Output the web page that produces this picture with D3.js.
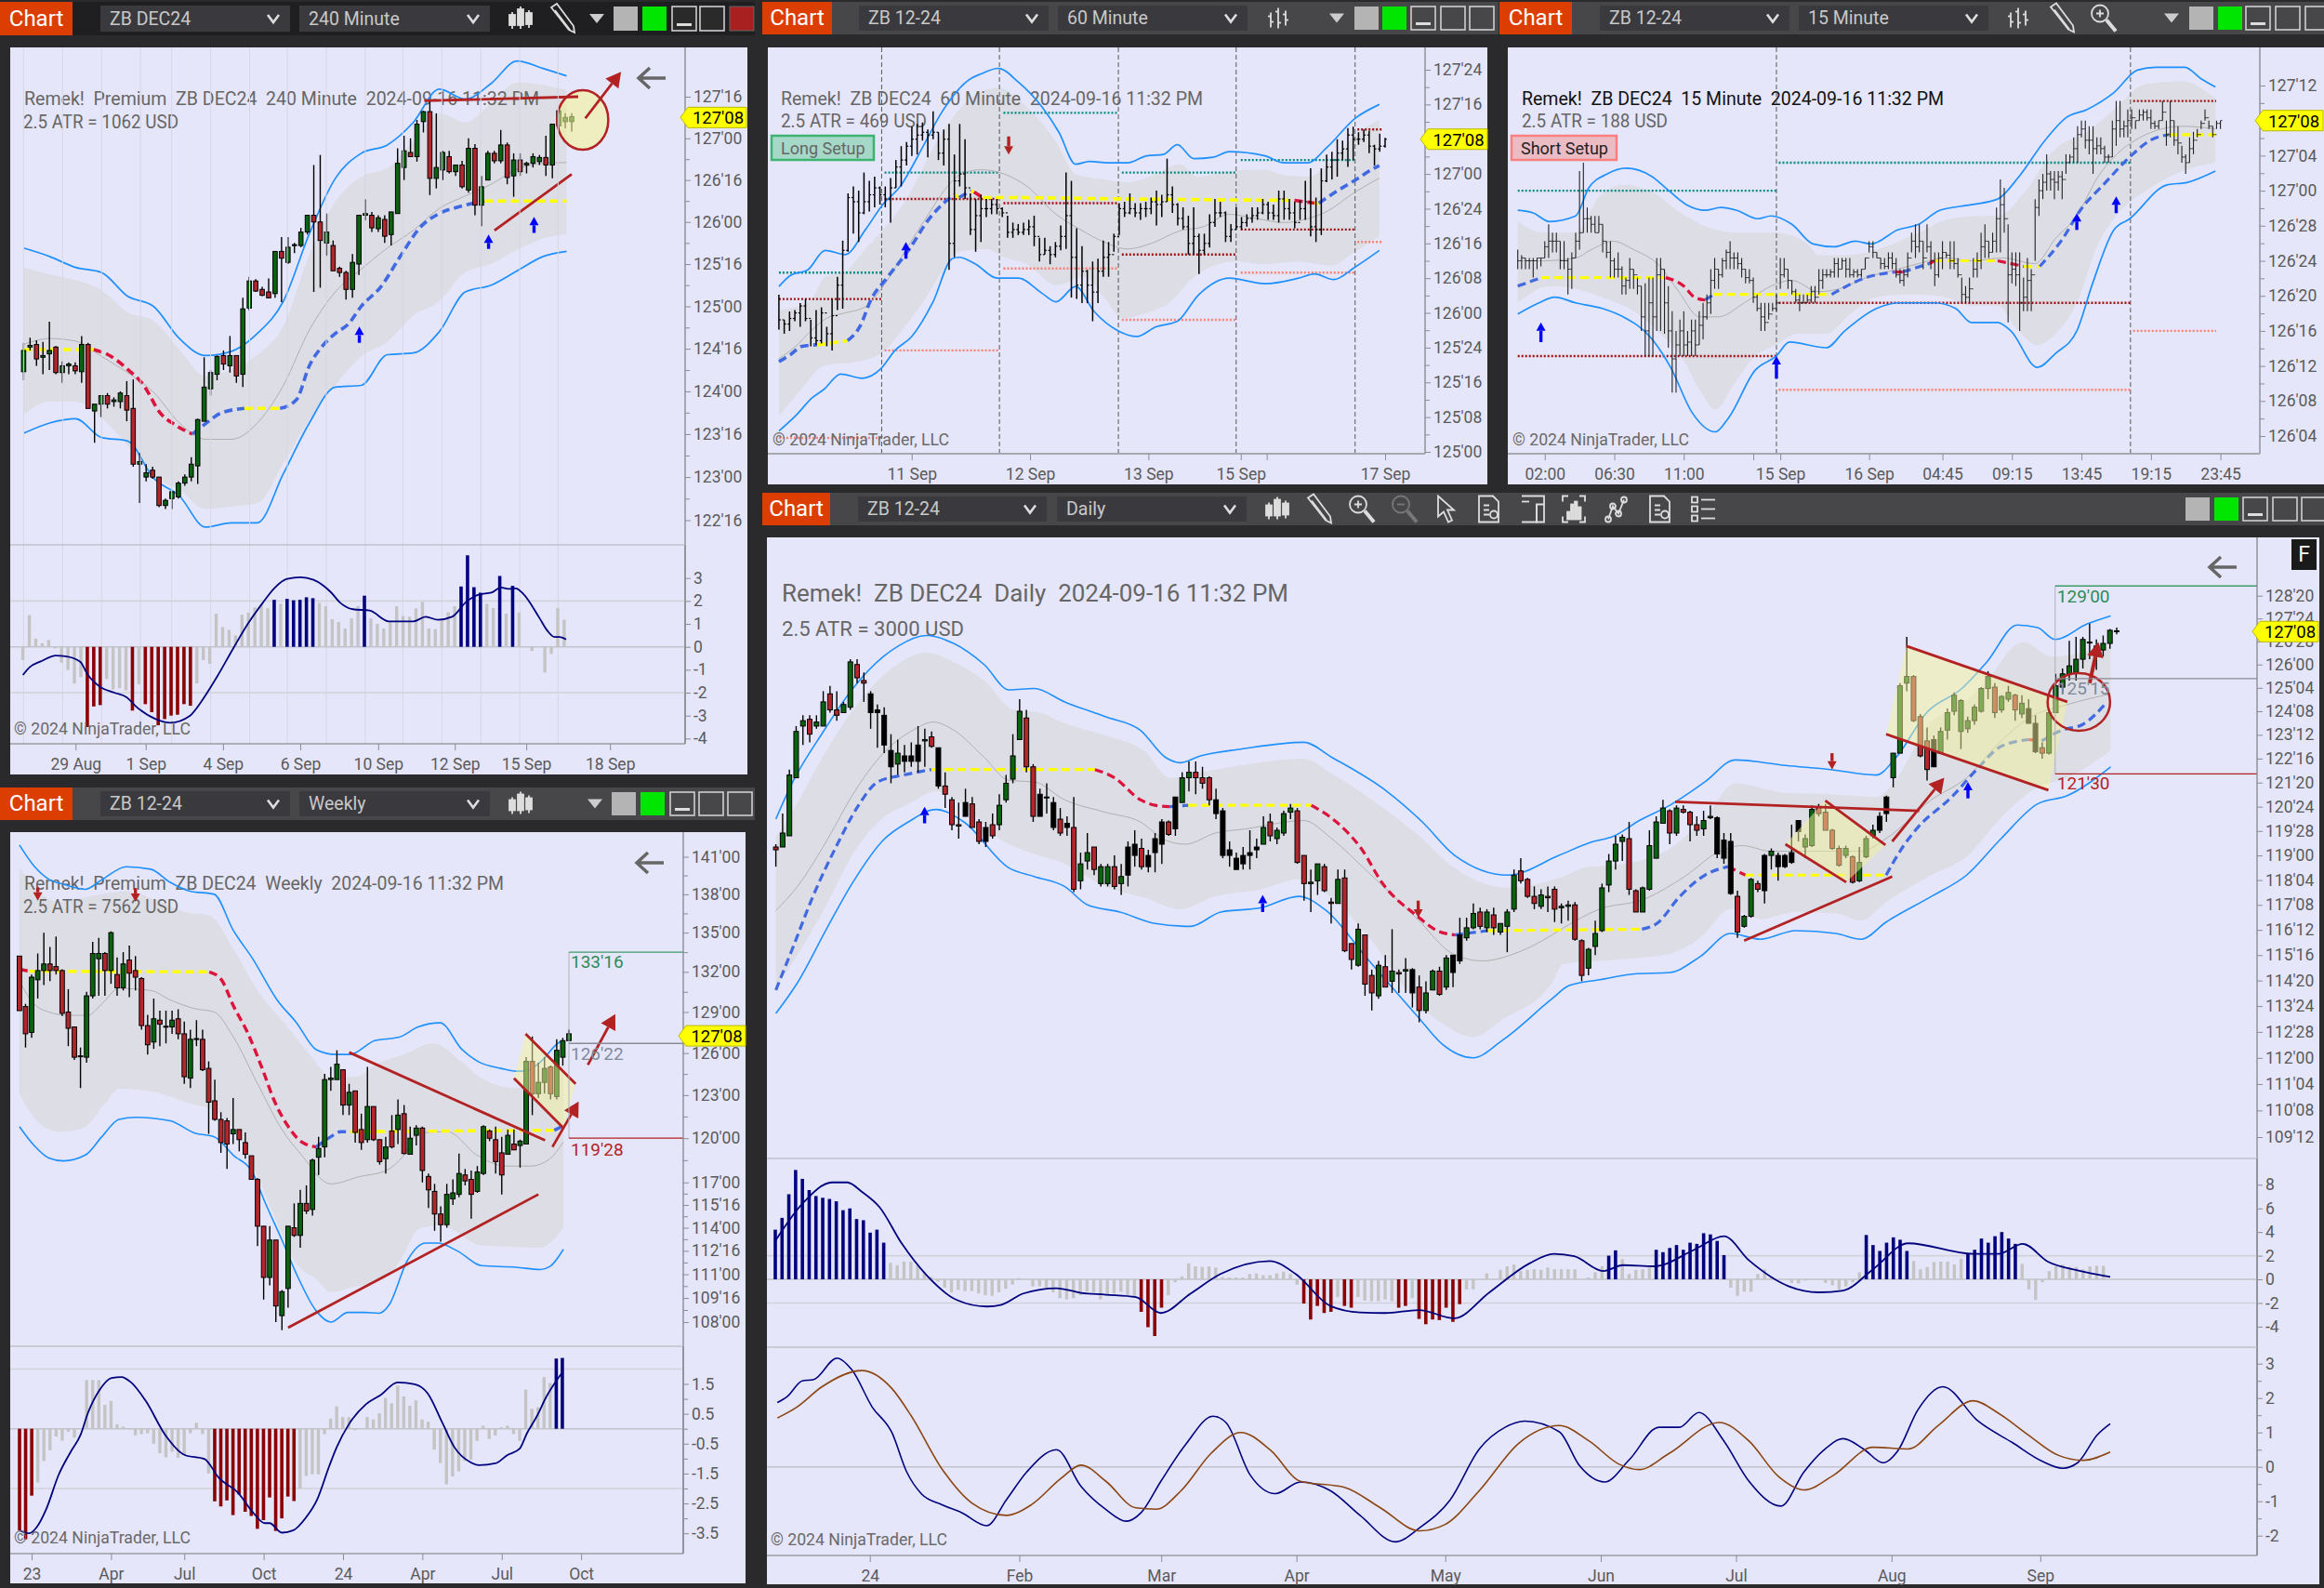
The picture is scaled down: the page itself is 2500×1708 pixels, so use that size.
<!DOCTYPE html>
<html><head><meta charset="utf-8"><script src="https://cdn.jsdelivr.net/npm/d3@7"></script>
<style>html,body{margin:0;background:#2a2a2c}svg{display:block}text{white-space:pre}</style></head><body><svg id="c" width="2500" height="1708"></svg>
<script>
// ---------- 240 minute ----------
const barsA=[124.23,124.57,124.13,124.48,124.52,124.63,124.48,124.54,124.55,124.6,124.3,124.38,124.4,124.58,124.2,124.42,124.44,124.82,124.25,124.48,124.52,124.53,124.2,124.22,124.22,124.35,124.1,124.3,124.3,124.34,124.2,124.32,124.3,124.34,124.2,124.24,124.23,124.65,124.1,124.55,124.55,124.57,123.8,123.8,123.77,123.85,123.4,123.85,123.85,123.95,123.7,123.95,123.95,123.98,123.8,123.85,123.88,123.93,123.82,123.9,123.88,124,123.8,123.98,123.95,124.12,123.65,123.78,123.8,124.14,123.12,123.15,123.15,123.28,122.7,123.18,123,123.15,122.95,123.05,123.08,123.12,122.98,123,123,123,122.65,122.67,122.67,122.75,122.63,122.73,122.75,122.83,122.63,122.83,122.77,122.95,122.75,122.93,122.93,123.03,122.9,123,123,123.23,122.95,123.15,123.13,123.68,122.92,123.67,123.65,124.4,123.65,124.05,124.03,124.25,123.95,124.22,124.2,124.42,124.13,124.41,124.42,124.48,124.25,124.32,124.3,124.65,124.22,124.42,124.42,124.42,124.1,124.18,124.2,125.1,124.05,124.97,124.98,125.35,124.95,125.3,125.3,125.32,125.17,125.18,125.2,125.23,125.12,125.13,125.17,125.33,125.1,125.1,125.15,125.65,125.1,125.65,125.65,125.82,125.05,125.57,125.52,125.82,125.5,125.7,125.72,125.75,125.63,125.73,125.72,125.93,125.7,125.88,125.88,126.08,125.85,126.08,126.08,126.68,125.17,126,126,126.8,125.22,125.78,125.75,126.1,125.6,125.88,125.72,125.78,125.43,125.42,125.45,125.47,125.35,125.4,125.4,125.42,125.08,125.2,125.2,125.62,125.1,125.52,125.5,126.08,125.37,126.08,126.08,126.27,126.02,126.1,126.08,126.12,125.88,125.93,125.92,126.08,125.88,126.05,126.03,126.08,125.75,125.83,125.85,126.12,125.72,126.12,126.1,126.88,126.1,126.7,126.65,127.03,126.5,126.85,126.83,127,126.78,126.78,126.78,127.22,126.72,127.17,127.2,127.33,127.07,127.32,127.32,127.45,126.32,126.52,126.52,127.3,126.4,126.65,126.62,126.85,126.5,126.83,126.78,126.85,126.58,126.6,126.6,126.68,126.55,126.68,126.68,126.73,126.4,126.42,126.38,127,126.35,126.88,126.88,126.93,126.08,126.2,126.2,126.55,125.95,126.42,126.5,126.85,126.5,126.82,126.82,126.85,126.7,126.73,126.73,127.1,126.7,126.92,126.92,126.95,126.45,126.53,126.55,126.82,126.3,126.74,126.74,126.82,126.55,126.6,126.68,126.72,126.58,126.7,126.7,126.82,126.65,126.78,126.72,126.8,126.68,126.77,126.77,127.03,126.55,126.68,126.68,127.17,126.52,127.17,127.15,127.33,127.07,127.33,127.2,127.3,127.12,127.25,127.2,127.3,127.08,127.26];
const knotsA=[0,4,8,12,16,20,24,28,32,36,40,44,48,52,56,60,64,68,72,76,80,83.6];
const upperA=[125.69,125.59,125.46,125.4,125.12,125,124.62,124.42,124.47,124.68,125.06,125.86,126.52,126.82,126.92,127.19,127.59,127.47,127.66,127.93,127.84,127.75];
const shadeTopA=[125.46,125.38,125.31,125.19,124.93,124.83,124.49,124.18,124.26,124.43,124.77,125.61,126.24,126.54,126.64,126.96,127.3,127.19,127.42,127.67,127.64,127.58];
const shadeBotA=[123.73,123.88,123.88,123.69,123.37,123.01,122.85,122.63,122.66,122.7,123.16,123.67,124.07,124.41,124.58,124.89,125.06,125.4,125.5,125.67,125.8,125.86];
const lowerA=[123.51,123.63,123.68,123.46,123.42,122.99,122.78,122.42,122.47,122.47,123.04,123.63,124.05,124.07,124.43,124.45,124.7,125.17,125.25,125.42,125.59,125.65];
const midA=[124.55,124.62,124.59,124.41,124.22,123.99,123.63,123.44,123.44,123.63,124.07,124.72,125.17,125.44,125.69,125.9,126.16,126.31,126.45,126.63,126.7,126.71];
const trailA=[0,124.49,'y',10.8,124.49,'r',13,124.43,'r',16,124.26,'r',18.5,124.07,'r',21,123.75,'r',23.5,123.6,'r',26,123.5,'b',28,123.62,'b',30.5,123.75,'b',34,123.8,'y',39.5,123.8,'b',42,123.9,'b',44,124.3,'b',46,124.53,'b',48,124.68,'b',50,124.79,'b',52,125,'b',55,125.23,'b',58,125.59,'b',61,125.93,'b',64,126.1,'b',67,126.18,'b',71,126.25,'y',83.6,126.25,'y'];
const histRunsA=[['g',[-.58,1.38,.36,.16,.3,-.07,-.69,-1.01,-1.6,-1.32]],['r',[-3.5,-2.6,-2.54]],['g',[-1.4,-1.86,-1.8,-1.9]],['r',[-2.78]],['g',[-1.63]],['r',[-2.5,-2.85,-3.42,-3.15,-3,-2.96,-2.5,-2.57]],['g',[-1.6,-.58,-.74,1.45,.86,.74,.5,1.4,1.49,1.72,1.85,1.69]],['n',[2.05]],['g',[1.88]],['n',[2.09,2.03,2.05,2.16,2.12]],['g',[1.92,1.77,1.2,1.08,.8,1.24,1.78]],['n',[2.23]],['g',[1.24,1,.8,1.1,1.77,1.34,1.31,1.68,1.96,.8,.77,1.18,1.5,1.77]],['n',[2.63,3.99,2.6,2.36]],['g',[1.88,1.69]],['n',[3.09]],['g',[1.45]],['n',[2.66]],['g',[1.5,0,-.18,0,-1.12,-.31,1.69,1.18]]];
const histLineA=[0,-1.23,1.1,-.88,2.9,-.62,5.1,-.38,6.6,-.41,8.9,-.65,10,-1.19,11.9,-1.73,14.2,-2,16.1,-2.2,17.6,-2.61,20.6,-3.15,22.9,-3.31,25.9,-3.01,27.8,-2.34,30.1,-1.32,32.7,-.04,35,1.04,37.2,1.91,39.1,2.58,41,2.96,43.1,3.03,45.1,2.92,47.8,2.38,49.3,1.91,51.2,1.64,53.8,1.58,56.8,1.11,60.6,1.11,62.5,1.31,64.4,1.18,66.6,1.31,68.9,1.99,70.8,2.28,72.7,2.36,74.2,2.59,75.3,2.53,76.5,2.55,77.6,2.32,80.2,1.24,81.4,.7,82.5,.43,83.3,.43,84.3,.32];
const tickPxA=[127.5,127,126.5,126,125.5,125,124.5,124,123.5,123,122.5];
const dateIdxA=[8,18.8,30.7,42.6,54.6,66.4,77.4,90.3], dateLabA=['29 Aug','1 Sep','4 Sep','6 Sep','10 Sep','12 Sep','15 Sep','18 Sep'];
const gridIdxA=[0,6,12,18,22.8,28.8,34.8,40.6,46.6,52.6,58.4,64.4,70.4,76.4,82.3];
// ---------- 60 minute ----------
const barsB=[126.13,125.88,125.95,125.95,125.85,125.92,126.01,125.87,125.96,126.02,125.94,126,126.07,125.9,126.05,126.1,125.94,125.96,125.95,125.76,125.82,126.02,125.77,125.8,126.04,125.78,126,125.9,125.76,125.85,126.1,125.73,125.98,126.26,126.02,126.2,126.52,126.03,126.45,126.86,126.44,126.83,126.91,126.57,126.8,126.88,126.51,126.72,127.01,126.71,126.8,126.95,126.73,126.85,126.98,126.76,126.9,126.91,126.78,126.85,126.91,126.76,126.82,126.97,126.65,126.9,127.1,126.9,127.05,127.2,126.91,127.1,127.23,127.06,127.2,127.34,127.13,127.25,127.36,127.14,127.28,127.37,127.24,127.3,127.32,127.12,127.28,127.45,127.25,127.3,127.3,127.1,127.15,127.32,127.06,127.25,127.36,126.31,126.5,127.14,126.4,126.95,127.36,126.91,127,127.25,126.82,126.9,126.86,126.56,126.6,126.82,126.44,126.7,126.85,126.51,126.75,126.82,126.69,126.75,126.82,126.71,126.78,126.82,126.71,126.75,126.76,126.69,126.72,126.7,126.54,126.58,126.65,126.54,126.6,126.64,126.56,126.58,126.65,126.56,126.6,126.67,126.56,126.62,126.7,126.48,126.55,126.54,126.37,126.42,126.54,126.42,126.45,126.48,126.35,126.42,126.51,126.4,126.48,126.63,126.45,126.55,127.01,126.46,126.7,126.95,126.11,126.4,126.61,126.1,126.2,126.48,126.07,126.3,126.31,126.07,126.2,126.37,125.94,126.15,126.39,126.07,126.3,126.52,126.26,126.4,126.51,126.26,126.42,126.57,126.44,126.55,126.79,126.56,126.75,126.8,126.69,126.72,126.86,126.71,126.75,126.79,126.69,126.72,126.79,126.67,126.75,126.8,126.69,126.75,126.83,126.71,126.8,126.88,126.63,126.78,126.85,126.69,126.8,127.11,126.8,126.85,126.91,126.72,126.78,126.79,126.63,126.68,126.76,126.6,126.62,126.7,126.42,126.5,126.76,126.42,126.55,126.57,126.28,126.45,126.57,126.42,126.5,126.71,126.47,126.65,126.82,126.62,126.72,126.8,126.69,126.72,126.73,126.51,126.55,126.64,126.51,126.6,126.76,126.6,126.62,126.69,126.6,126.65,126.71,126.62,126.68,126.76,126.65,126.7,126.76,126.67,126.72,126.82,126.71,126.78,126.8,126.67,126.72,126.78,126.67,126.7,126.88,126.65,126.82,126.88,126.67,126.75,126.82,126.67,126.72,126.8,126.61,126.65,126.81,126.67,126.75,126.95,126.67,126.8,127.04,126.55,126.62,126.83,126.51,126.6,127.04,126.56,126.95,127.14,126.94,127.05,127.16,126.96,127.1,127.25,126.98,127.15,127.24,127.1,127.18,127.33,127.05,127.28,127.34,127.1,127.25,127.3,127.21,127.25,127.32,127.23,127.28,127.31,127.15,127.2,127.21,127.06,127.18,127.29,127.16,127.2,127.26,127.19,127.25];
const upperB=[0,126.19,2,126.27,5,126.31,8,126.45,11.5,126.42,15,126.6,18,126.78,21,126.91,25,127.2,28,127.43,33,127.68,35,127.72,38,127.76,41.5,127.66,45.6,127.48,48.5,127.3,51.4,127.07,53.8,127.09,57,127.08,60.4,127.08,63.7,127.13,66.6,127.14,69,127.21,71.9,127.11,75.2,127.12,78,127.16,84.2,127.13,87.5,127.08,91.6,127.08,94.9,127.19,99.8,127.4,104,127.5];
const lowerB=[0,125.15,2.9,125.26,5.8,125.39,7.8,125.45,10.7,125.56,14.4,125.53,17.7,125.6,20.1,125.73,23,125.83,26.7,126.08,30,126.39,31.2,126.4,34.1,126.35,37.8,126.25,41.5,126.25,45.6,126.14,48,126.08,51.4,126.19,54.6,126.01,58.8,125.87,62,125.83,65.3,125.9,69,125.94,72.7,126.13,78,126.25,84.2,126.21,90,126.25,92.8,126.28,96.1,126.24,99.8,126.33,104,126.45];
const shadeTopB=[0,126.02,5.3,126.08,8,126.26,11.5,126.3,15,126.46,21.8,126.8,28.3,127.3,32.5,127.52,38,127.62,43,127.48,48,127.23,51.4,127,56.3,126.96,60.4,126.94,65.3,127,69.4,127.07,72.7,126.98,78,127.02,84.2,127.03,87.5,126.99,91.6,126.98,95.7,127.1,99.8,127.28,104,127.39];
const shadeBotB=[0,125.26,3.7,125.44,7.8,125.62,13.6,125.65,17.7,125.71,21.8,125.9,25,126.08,28.8,126.33,31.2,126.44,35.8,126.46,39,126.4,43,126.35,48,126.2,53,126.26,56.3,126.11,59.6,125.96,62.9,125.99,67.8,126.08,71.9,126.26,76,126.35,79.3,126.37,84.2,126.35,90,126.37,95.7,126.34,99.8,126.44,104,126.55];
const midB=[0,125.67,2.9,125.76,5.8,125.88,8.2,125.96,11.5,126,14.8,126.04,17.7,126.17,21.8,126.44,25.9,126.71,29.2,126.91,31.6,127,35,127.03,39,127,43,126.91,48,126.71,52.2,126.6,56.3,126.51,60.4,126.46,64.5,126.5,69.4,126.59,73.5,126.62,78,126.71,82.6,126.68,87.5,126.65,90.8,126.67,94.9,126.73,99.8,126.87,104,126.97];
const trailB=[0,125.65,'b',2,125.7,'b',4,125.76,'b',6.6,125.77,'y',11.9,125.8,'b',14,125.9,'b',16,126.1,'b',18.5,126.24,'b',22.6,126.46,'b',25.9,126.67,'b',28.8,126.8,'b',30.4,126.85,'y',31.2,126.83,'b',33.3,126.88,'y',33.8,126.87,'r',35.3,126.83,'y',39,126.83,'y',60,126.82,'y',89.3,126.81,'r',92.8,126.79,'y',93.5,126.79,'b',96.4,126.87,'b',100,126.96,'b',103,127.04,'b',104,127.06,'b'];
const levelSpanB=[[0,17.8],[18.3,38.2],[38.9,58.8],[59.4,79.2],[80,99.8],[100.2,104.4]];
const levelTealB=[126.29,127.01,127.44,127.01,127.1,null],levelRedB=[126.1,126.82,126.79,126.42,126.6,127.32],levelSalmonB=[125.1,125.73,126.32,125.95,126.29,126.51];
const sepB=[17.8,38.2,58.8,79.2,99.8];
const tickPxB=[127.75,127.5,127.25,127,126.75,126.5,126.25,126,125.75,125.5,125.25,125];
const tickLabB=["127'24","127'16","","127'00","126'24","126'16","126'08","126'00","125'24","125'16","125'08","125'00"];
const dateIdxB=[23,43.5,64,80,84.5,105],dateLabB=['11 Sep','12 Sep','13 Sep','15 Sep','','17 Sep'];
// ---------- 15 minute ----------
const barsC=[126.79,126.72,126.75,126.77,126.72,126.76,126.76,126.72,126.75,126.76,126.72,126.75,126.76,126.69,126.75,126.76,126.72,126.76,126.76,126.73,126.76,126.82,126.76,126.8,126.88,126.76,126.82,126.85,126.78,126.82,126.85,126.78,126.82,126.82,126.72,126.75,126.82,126.72,126.75,126.76,126.63,126.72,126.78,126.65,126.76,126.85,126.76,126.82,127.07,126.79,126.85,127.1,126.85,126.9,126.94,126.85,126.9,126.91,126.85,126.88,126.91,126.85,126.85,126.91,126.85,126.88,126.88,126.78,126.82,126.82,126.76,126.78,126.82,126.69,126.75,126.76,126.69,126.72,126.78,126.69,126.72,126.73,126.63,126.66,126.69,126.63,126.68,126.76,126.65,126.72,126.72,126.65,126.7,126.69,126.63,126.66,126.66,126.5,126.55,126.67,126.41,126.5,126.69,126.41,126.6,126.69,126.41,126.55,126.76,126.5,126.7,126.76,126.5,126.72,126.72,126.49,126.6,126.66,126.44,126.5,126.57,126.28,126.4,126.5,126.28,126.45,126.54,126.41,126.5,126.57,126.41,126.45,126.5,126.41,126.46,126.54,126.41,126.5,126.54,126.41,126.45,126.57,126.45,126.52,126.6,126.47,126.55,126.63,126.54,126.6,126.72,126.56,126.68,126.76,126.65,126.72,126.72,126.65,126.7,126.76,126.69,126.75,126.79,126.72,126.78,126.82,126.72,126.76,126.78,126.72,126.76,126.78,126.72,126.74,126.76,126.69,126.72,126.72,126.67,126.69,126.72,126.67,126.68,126.69,126.6,126.62,126.63,126.57,126.58,126.6,126.5,126.55,126.6,126.5,126.53,126.6,126.54,126.56,126.6,126.57,126.58,126.63,126.57,126.6,126.76,126.65,126.7,126.76,126.69,126.72,126.72,126.65,126.68,126.68,126.63,126.64,126.65,126.6,126.61,126.63,126.57,126.6,126.63,126.6,126.6,126.63,126.6,126.61,126.66,126.6,126.64,126.66,126.6,126.62,126.72,126.63,126.68,126.72,126.65,126.7,126.72,126.69,126.7,126.72,126.69,126.71,126.76,126.69,126.74,126.76,126.69,126.72,126.76,126.72,126.75,126.76,126.69,126.72,126.76,126.69,126.7,126.72,126.69,126.71,126.72,126.69,126.7,126.72,126.69,126.72,126.76,126.72,126.76,126.82,126.78,126.8,126.82,126.76,126.78,126.78,126.76,126.76,126.76,126.72,126.74,126.76,126.72,126.73,126.78,126.72,126.76,126.78,126.72,126.74,126.76,126.69,126.7,126.72,126.67,126.68,126.72,126.66,126.7,126.78,126.69,126.76,126.85,126.78,126.82,126.88,126.76,126.8,126.88,126.78,126.82,126.82,126.72,126.76,126.88,126.78,126.8,126.82,126.72,126.75,126.78,126.66,126.7,126.78,126.69,126.76,126.82,126.72,126.78,126.78,126.76,126.77,126.82,126.72,126.75,126.82,126.72,126.74,126.76,126.69,126.7,126.69,126.6,126.63,126.66,126.6,126.62,126.69,126.6,126.65,126.76,126.69,126.72,126.78,126.69,126.75,126.85,126.72,126.8,126.88,126.76,126.82,126.82,126.76,126.78,126.85,126.78,126.82,126.94,126.78,126.9,127.04,126.78,126.95,127.01,126.85,126.9,126.88,126.53,126.7,126.78,126.67,126.72,126.78,126.66,126.7,126.78,126.5,126.6,126.69,126.57,126.62,126.76,126.57,126.68,126.72,126.57,126.7,126.97,126.75,126.94,127.04,126.91,127,127.06,126.97,127.03,127.13,127,127.06,127.07,127,127.04,127.07,126.97,127.03,127.07,127,127.05,127.07,126.97,127.04,127.13,127.06,127.1,127.13,127.1,127.12,127.19,127.1,127.15,127.23,127.1,127.2,127.25,127.19,127.22,127.25,127.15,127.18,127.23,127.13,127.18,127.23,127.06,127.15,127.19,127.13,127.16,127.19,127.13,127.15,127.16,127.1,127.12,127.13,127.1,127.12,127.25,127.12,127.22,127.32,127.16,127.25,127.32,127.19,127.22,127.25,127.19,127.23,127.29,127.19,127.25,127.29,127.22,127.26,127.25,127.22,127.25,127.29,127.25,127.27,127.29,127.25,127.28,127.29,127.25,127.26,127.29,127.22,127.24,127.25,127.22,127.23,127.25,127.22,127.25,127.32,127.25,127.28,127.25,127.16,127.2,127.32,127.19,127.25,127.25,127.16,127.18,127.23,127.13,127.17,127.16,127.1,127.12,127.13,127.06,127.1,127.19,127.1,127.15,127.21,127.13,127.18,127.22,127.19,127.2,127.25,127.22,127.24,127.29,127.25,127.26,127.25,127.22,127.23,127.23,127.19,127.2,127.25,127.22,127.24,127.25,127.22,127.25];
const upperC=[0,126.93,4.1,126.92,8.2,126.89,15,126.91,18.4,127.01,23.2,127.06,28,127.08,34.8,127.05,38.3,127.01,43.7,126.95,48.5,126.93,52.6,126.94,56.7,126.93,62.2,126.9,65.6,126.91,71,126.88,76.5,126.81,82,126.8,87.4,126.82,91.5,126.81,98.4,126.86,103.8,126.88,109.3,126.93,117.5,126.95,124.3,126.97,129.8,127.05,136.6,127.18,142,127.26,147.5,127.29,154.4,127.35,160.5,127.43,165.3,127.44,172.8,127.44,176.9,127.4,180.7,127.37];
const lowerC=[0,126.56,5.5,126.6,9.6,126.62,15,126.6,21.9,126.58,27.3,126.55,34.2,126.48,39.6,126.37,45.1,126.21,51.2,126.14,54.6,126.19,61.5,126.36,66.9,126.41,70.4,126.46,79.9,126.44,84.7,126.5,92.9,126.58,99,126.6,107.9,126.6,113.4,126.58,117.5,126.53,124.3,126.53,127.7,126.5,134.6,126.37,139.3,126.42,144.8,126.5,148.9,126.67,154.4,126.86,158.5,126.9,168,127.02,173.5,127.03,180.7,127.07];
const shadeTopC=[0,126.89,6.8,126.85,15,126.85,21.2,126.98,27.3,127.02,35.5,126.99,42.3,126.92,49.2,126.87,57.4,126.85,66.9,126.85,75.1,126.81,77.9,126.77,84.7,126.77,92.9,126.79,103.8,126.85,112,126.9,120.2,126.91,124.3,126.91,131.1,126.99,139.3,127.15,147.5,127.21,154.4,127.29,162.6,127.38,172.1,127.39,180.7,127.33];
const shadeBotC=[0,126.6,8.2,126.66,15,126.65,21.9,126.62,30,126.57,36.9,126.49,42.3,126.41,47.1,126.29,51.2,126.22,56,126.31,61.5,126.41,66.9,126.45,72.4,126.49,79.9,126.49,86.1,126.56,92.9,126.62,102.5,126.63,110.7,126.62,117.5,126.59,124.3,126.59,129.1,126.51,134.6,126.45,139.3,126.49,144.8,126.6,150.3,126.81,154.4,126.9,163.9,127.01,172.1,127.07,180.7,127.1];
const midC=[0,126.75,6.8,126.75,15,126.76,19.1,126.79,24.6,126.82,30,126.79,36.9,126.73,41.7,126.64,47.1,126.55,51.9,126.55,58.7,126.6,65.6,126.66,71,126.68,77.9,126.64,83.3,126.65,90.2,126.69,98.4,126.72,103.8,126.74,110.7,126.76,117.5,126.75,125.7,126.76,133.9,126.74,139.3,126.83,144.8,126.91,150.3,127.05,154.4,127.12,161.2,127.19,166.7,127.22,172.1,127.23,180.7,127.22];
const trailC=[0,126.66,'b',4.1,126.68,'b',6.1,126.69,'y',38.3,126.69,'r',43,126.66,'r',45.8,126.62,'r',48.5,126.61,'b',50.8,126.63,'y',81.3,126.63,'b',90.2,126.69,'b',97.7,126.71,'r',99.7,126.71,'b',106.6,126.74,'r',107.9,126.75,'y',124.3,126.75,'r',131.1,126.73,'y',135.2,126.73,'b',140.7,126.82,'b',146.2,126.94,'b',151.6,127.02,'b',158.5,127.12,'b',163.9,127.18,'b',168.7,127.2,'y',180.7,127.2,'y'];
const levelSpanC=[[0,67],[67.6,158.7],[159.4,180.9]];
const levelTealC=[127,127.1,null],levelRedC=[126.41,126.6,127.32],levelSalmonC=[null,126.29,126.5];
const sepC=[67,158.7];
const tickPxC=[127.375,127.25,127.125,127,126.875,126.75,126.625,126.5,126.375,126.25,126.125];
const tickLabC=["127'12","","127'04","127'00","126'28","126'24","126'20","126'16","126'12","126'08","126'04"];
const dateIdxC=[7,25,43,61,68,91,110,128,146,164,182],dateLabC=['02:00','06:30','11:00','','15 Sep','16 Sep','04:45','09:15','13:45','19:15','23:45'];
// ---------- Daily ----------
const barsD=[119.3,119.4,118.6,119.2,119.3,120.5,119.3,119.8,119.7,122.1,119.7,121.9,121.8,123.7,121.8,123.5,123.7,124.1,123,123.9,123.95,124.1,123.1,123.4,123.7,124.1,123.6,123.85,123.7,125,123.7,124.6,124.9,125.2,124.2,124.3,124.3,125,123.9,124.1,124.2,124.6,124.2,124.5,124.4,126.2,124.3,126.1,126,126.2,125.3,125.5,125.4,125.7,124.6,125.3,124.9,125,123.6,124.2,124.3,124.5,122.9,124.2,124.1,124.4,122.7,123,122.8,123.4,121.6,122.2,122.3,123.2,121.9,122.7,122.4,123,122,122.6,122.6,123.1,122.2,122.4,122.4,123.7,122,123,123.15,123.6,122.2,123.2,123.3,123.5,122.9,122.95,122.9,122.9,121.4,121.5,121.5,122,120.7,121.2,121,121.1,119.9,120.1,120.1,120.9,119.6,120.05,120.4,121.4,120.4,120.9,120.85,121.1,120,120,120.2,120.3,119.4,119.5,119.5,120.2,119.3,120,120.1,120.5,119.6,119.7,120.1,121.2,119.9,120.8,121,121.9,120.9,121.6,121.75,123.4,121.6,122.6,123.2,124.7,123.2,124.25,124,124.3,122,122.2,122.2,122.3,120.2,120.4,120.4,121.4,120.4,121.2,121.1,121.6,120.5,121.1,120.9,121.1,119.9,120,120.3,120.7,119.7,119.8,120,120.4,119.7,120.15,120,121.1,117.7,117.8,118.1,119.1,117.8,118.7,118.8,119.8,118.5,119.1,119.3,119.3,118.3,118.5,118,118.7,117.9,118.6,118,118.7,117.9,118.6,118.6,119,117.8,117.9,118,118.7,117.6,118.25,118.3,119.5,117.9,119.3,119,119.9,118.6,119.4,119.25,119.6,118.5,118.6,118.6,119.2,118.4,119,119.1,119.8,118.4,119.6,119.4,120.3,118.7,120.2,120.2,120.25,119.7,119.75,119.95,121.1,119.7,121.1,120.9,122,120.9,121.8,121.8,122.4,121.3,122,122,122.4,121.2,121.8,121.8,122.2,121.4,121.6,121.8,121.85,120.8,121,121,121.4,120.3,120.5,120.6,120.7,118.9,119,119,119.5,118.6,119.2,118.9,119.1,118.5,118.5,118.7,119.3,118.5,119,119,119.9,118.5,119.1,119.2,119.6,118.9,119.3,119.4,120.4,119.4,120,120.2,120.5,119.5,119.7,119.6,120,119.4,119.9,119.8,120.6,119.7,120.5,120.55,120.85,120.3,120.7,120.6,120.7,118.7,118.75,119,119,117.4,118,118,118.5,117,118.05,118.1,118.7,117.6,118.7,118.6,118.7,117.7,117.75,117.35,117.5,116.6,117.3,117.3,118.5,117.3,118.15,118.2,118.5,115.6,115.65,115.9,115.9,115,115.35,115.15,116.6,115.1,116.4,116.2,116.2,114.1,114.5,114.8,115,113.6,114.2,114.1,115.3,114,115.15,115.1,115.5,114.4,114.4,114.6,116.4,114.2,114.95,114.9,115,114.2,114.85,114.95,115.4,114.2,115,115,115.05,113.7,114.2,114.4,114.8,113.2,113.6,113.6,114.6,113.5,114.2,114.3,115,114.3,114.95,114.95,115.1,114.1,114.15,114.4,115.5,114.3,115.4,114.9,115.5,114.4,115.5,115.3,116.8,115.2,116.2,116.1,116.8,116,116.45,116.45,117.3,116.4,116.95,117,117.15,116.4,116.5,116.45,117.1,116.3,117,116.9,117.15,116.2,116.45,116.3,116.6,116.2,116.6,116.5,117.1,115.6,117,117.1,118.5,117,118.3,118.45,118.9,118,118.1,118.15,118.2,117.5,117.55,117.55,117.9,117.1,117.3,117.2,117.8,117.1,117.6,117.55,117.9,117,117.5,117.8,117.9,116.65,117.1,117.15,117.3,116.6,117.2,117.2,117.4,116.7,117.25,117.25,117.35,116,116.05,116,116.05,114.6,114.8,115.05,115.75,114.8,115.7,115.8,116.7,115.5,116.25,116.35,118,116.3,117.85,117.95,119.05,117.7,118.8,118.8,119.7,118.5,119.4,119.5,119.75,118.8,119.65,119.6,120.2,117.6,117.8,117.75,117.8,117,117,117,117.9,117,117.85,117.8,119.9,117.75,119.35,118.9,120.4,118.9,120.2,120.15,121,120.15,120.7,120.6,120.65,119.4,119.8,119.8,120.8,119.7,120.7,120.65,120.8,120.5,120.55,120.55,120.6,119.5,120.1,120.1,120.4,119.7,119.9,119.95,120.6,119.7,120.25,120.35,120.8,120.3,120.4,120.35,120.4,118.9,119.05,118.9,119.8,118.7,119.55,119.5,119.8,117.6,117.65,117.55,117.75,116.1,116.3,116.5,116.9,116.45,116.85,116.85,118.2,116.8,118.15,118,118.1,117.7,117.8,117.75,119.05,117.3,119,119,119.25,118.5,119.15,119,119.1,118.1,118.6,118.6,119.05,118.55,119,118.75,120.1,118.7,119.1,119.85,120.25,119.5,120.25,119.3,119.75,118.9,119.6,119.35,120.8,119.3,120.65,120.75,120.85,120.4,120.5,120.55,120.85,119.9,119.9,119.9,119.95,119.2,119.25,119.25,119.35,118.6,118.65,119,119.35,118.9,119.25,118.95,119,118,118.05,118.1,119.3,118.05,118.75,118.95,119.7,118.9,119.6,119.7,120.1,119.6,119.9,119.9,120.55,119.8,120.4,120.5,121.15,120.2,121.1,121.8,122.7,121.45,122.7,122.7,125.3,122.7,125.2,125.3,127.05,125,125.55,125.55,125.6,123.85,123.9,124.05,124.15,122.55,122.6,123.15,123.65,121.7,122.1,122.2,123.35,122.2,123.2,122.7,123.65,122.7,123.5,123.55,124.35,123.2,124.2,124.25,124.95,124.1,124.85,123.5,124.7,122.85,124.65,123.6,124.05,123.45,123.9,123.9,124.5,123.75,124.4,124.25,125.15,124.2,125.1,125.1,125.75,124.7,125.55,125.15,125.3,124,124.2,124.3,124.85,124.2,124.8,124.7,125.2,124.6,124.95,124.85,124.9,123.9,124.3,124.15,124.85,124,124.55,124.35,124.7,123.8,123.8,123.8,124.1,122.7,122.75,122.9,123.1,122.5,122.7,122.7,124.2,122.65,124.2,124.2,125.65,124.2,125.2,125.15,125.85,124.9,125.65,125.65,126.9,125.4,125.95,125.7,127.05,125.4,126.2,126.2,127.05,125.85,126.95,126.85,127.55,126.2,126.85,126.7,126.95,125.8,126.35,126.55,127.1,126.3,126.8,126.8,127.35,126.6,127.3,127.25,127.4,127.15,127.28];
const blackBarsD=[14,15,16,17,19,20,21,24,28,31,39,41,43,52,53,55,56,57,59,65,66,67,68,69,70,71,94,100,101,139,140,141,146,148,149,150,151,163,164,171,185,186];
const upperD=[0,120.3,2.5,121.65,6.9,123.45,11.4,125.1,15.9,126.3,18.1,126.7,22.2,127.1,26.3,126.8,30.8,126,34.5,125.05,38.2,125.1,42.7,124.6,48.7,124.05,53.9,123.55,57.6,122.55,59.8,122.35,62.8,122.6,68.8,122.85,78.1,123.1,82.2,122.55,90.4,121.3,95.6,120.2,100.4,119,108.3,118.3,115.8,119,120.3,119.45,124,119.7,127.7,120.25,132.2,120.8,137.4,121.65,141.9,122.45,149.3,122.25,156,122.1,162.7,121.9,165.7,122.55,170.2,124.2,175.4,125.1,179.1,126.1,183.6,127.5,186.6,127.4,189.2,126.95,194,127.55,197.4,127.85];
const lowerD=[0,113.5,3.2,114.55,7.7,116.5,11.4,118.05,15.9,119.55,19.6,120.2,23.7,120.65,27.8,120.2,34.5,118.55,38.2,118.25,42.7,117.9,46.1,117.25,50.9,117,56.1,116.6,61.3,116.5,65.8,117,71.8,117.15,77.3,117.55,81.4,117.05,87.4,115.4,94.9,113.4,98.6,112.45,103.1,112,107.5,112.6,114.8,114,117.3,114.45,121.8,114.65,127,114.85,132.2,114.9,136.7,115.45,141.2,116.25,145.6,116.05,150.8,116.35,156.8,116.25,160.5,116.05,164.2,116.65,170.9,117.55,176.1,118.3,181.2,119.6,186.6,120.85,191,121.15,197.4,122.2];
const shadeTopD=[0,119.65,2.5,120.6,6.9,122.55,11.4,124.3,14,125.1,17.4,125.9,22.2,126.45,26.3,126.1,30.8,125.4,35.2,124.3,39,124.2,42.7,123.8,48.7,123.35,54.6,122.75,58.3,121.8,62.8,122,68.8,122.25,78.1,122.5,82.2,121.95,90.4,120.6,95.6,119.6,99.3,118.75,108.3,117.85,115.8,118.2,120.3,118.6,124,118.65,132.2,119.25,137.4,120.35,141.9,121.6,149.3,121.25,156,121.2,162.7,121.1,165.7,121.75,170.2,123.7,175.4,124.5,179.1,125.4,184.4,126.85,188.8,126.3,194,126.5,197.4,126.7];
const shadeBotD=[0,114.4,3.2,115.5,7.7,117.35,11.4,119.05,15.9,120.35,19.6,120.85,23.7,121.3,27.8,120.8,33,119.6,38.2,119.05,42.7,118.7,48.7,117.9,54.6,117.5,59.8,117.1,65,117.55,71.8,117.8,77.3,118.15,81.4,117.65,87.4,116.2,94.9,113.85,98.6,113.15,103.1,112.7,107.5,113.3,114.8,114.55,116.5,115.2,121.8,115.3,132.2,115.55,136.7,116.1,141.2,117.1,145.6,116.75,150.8,117,156.8,116.95,160.5,116.7,164.2,117.35,170.9,118.3,176.1,118.95,181.2,120.35,186.6,121.45,191,121.8,197.4,122.8];
const midD=[0,117.05,3.2,117.9,7.7,119.6,11.4,121.2,15.9,122.7,20.3,123.55,23.3,123.85,26.3,123.55,30.8,122.55,34.5,121.7,38.2,121.65,42.7,121,48.7,120.55,53.9,120.2,57.6,119.55,60.6,119.4,65,119.8,69.5,119.95,78.1,120.25,82.2,119.6,87.4,118.45,94.9,116.75,100.1,115.55,104.5,115.3,109.8,115.6,114.8,116.2,116.5,116.45,121.8,117.1,128.4,117.45,134.4,118.25,139.6,119.15,143,119.35,147.1,119.15,153.1,119.15,160.5,119.15,164.2,119.6,170.9,121,176.1,121.8,181.2,123.15,185.7,124.05,191,124.5,197.4,124.9];
const trailD=[0,114.3,'b',2.5,115.75,'b',5.4,117.5,'b',9.2,119.45,'b',12.1,120.75,'b',15.1,121.65,'b',18.9,121.9,'b',23,122.1,'y',47.2,122.1,'r',50.1,121.8,'r',53.9,121,'r',56.1,120.8,'r',58.2,120.75,'b',61,120.8,'y',79.2,120.8,'r',82.9,120.2,'r',86.7,119.2,'r',89.6,118.05,'r',94.9,116.85,'r',97.8,116.35,'r',100.4,116.2,'b',105.3,116.35,'y',128.1,116.4,'b',130.3,116.6,'b',133.7,117.55,'b',137.4,118.3,'b',140.8,118.6,'r',143.4,118.3,'y',164.2,118.3,'b',166.8,119.35,'b',168.7,119.95,'b',173.9,121.1,'b',177.6,122.1,'b',181.2,122.95,'b',185.3,123.2,'r',187.2,123.15,'b',190.2,123.55,'b',193.2,123.75,'b',196.9,124.6,'b'];
const histRunsD=[['n',[4.2,5.2,7.2,9.25,8.5,7.55,7.05,6.9,6.8,6.6,5.85,6,5.1,5,3.95,4.2,3.1]],['g',[1.4,1.2,1.5,1.5,1.2,.6,.2,-.2,-.7,-1.1,-.9,-1,-1,-1.2,-1.35,-1.4,-1.1,-.8,-.45,.1,0,-.6,-.6,-.7,-1.1,-1.6,-1.7,-1.6,-1.35,-1.05,-1.1,-1.7,-1.35,-1.2,-1.05,-1.35,-1.45]],['r',[-2.75,-4.05,-4.8,-2.4]],['g',[-1.35,-.25,.25,1.35,1.1,1.05,1.1,1,.2,.15,.15,.15,.45,.5,.35,.35,.5,.65,.45,-.45]],['r',[-2.05,-3.4,-2.25,-2.85,-2.75]],['g',[-1.5]],['r',[-2.25,-2.4]],['g',[-1.5,-1.8,-1.85,-1.85,-1.7,-1.85]],['r',[-2.4,-2.25]],['g',[-1.6]],['r',[-3.35,-3.8,-3.4,-3.45,-2.4,-3.6,-2.1]],['g',[-.85,-.85,0,.5,0,.8,1.1,1.25,.7,.8,.85,.8,1,.85,.85,.85,.85,0,.15,.6,1.1]],['n',[2,2.45]],['g',[1.7,.45,.8,.85,1]],['n',[2.5,2.3,2.65,2.9,2.5,3.1,3,3.9,3.8,3.25,2.05]],['g',[-.7,-1.4,-1.05,-1.05,.45,.85,.2,0,0,-.3,-.35,-.1,0,0,-.3,-.5,-.85,-.6,-.25,.6]],['n',[3.75,2.9,2.4,3.1,3.55,3.35,2.4]],['g',[1.55,.85,1.05,1.45,1.5,1.5,1.25,1.75]],['n',[2.15,2.5,3.45,3.1,3.65,4,3.45,3]],['g',[1.3,-.85,-1.75,-.25,.7,1.1,1.25,1.05,1.05,.85,1.1,1.15,1.15]]];
const histLineD=[0,3.25,4,6.4,8.4,8.2,10.6,8.2,12.8,7.4,15.4,6.1,18.7,3,22.4,.3,26.8,-1.75,31.2,-2.3,33.4,-2.15,36.6,-1.2,41.5,-.75,45.1,-1.15,48.8,-1.3,53.2,-1.5,56.9,-2.85,61.3,-1.2,65.7,.45,73,1.55,76.8,.45,81.9,-2.25,86.3,-2.8,90,-2.85,95,-2.6,100.2,-3.3,105.4,-1.1,111.3,1.35,114.9,2.15,117.9,1.95,122.2,.7,125.1,1.2,129.7,1.1,135.6,2.5,140,3.65,143.7,1.6,149.6,-.6,154,-1.1,157.6,-.95,162,.85,167.2,3.05,176.8,2.15,180.5,2.15,184.1,3,187.8,1.5,192.2,.75,197,.2];
const oscFastD=[.3,1.87,1.8,2.05,3.97,2.5,5.7,2.54,9.1,3.16,11.3,2.82,14.3,1.74,17.2,1,19.4,-.15,21.6,-.79,24.6,-1.1,27.5,-1.33,31.2,-1.71,34.1,-.96,37.1,-.15,41.5,.5,45.1,-.56,48.8,-1.24,51.8,-1.58,54,-1.33,56.9,-.42,60.6,.66,64.6,1.47,66.5,1.29,70.1,-.24,73.8,-.78,77.5,-.44,81.9,-.69,86.3,-1.41,91.5,-2.18,95.1,-1.77,99.6,-.96,103.9,.52,107.7,1.15,110.6,1.33,115.7,1.02,118.7,.03,122.4,-.44,126,.2,130.4,1.15,133.4,1.15,136.3,1.58,140,.75,143.7,-.42,148.4,-1.14,151.8,-.15,154.7,.48,157.6,.82,160.6,.52,163.5,.12,165.7,.48,168.6,1.65,172.3,2.33,177.5,1.33,182.6,.7,187,.16,190,-.04,192.2,.12,195.1,.93,197,1.25];
const oscSlowD=[.3,1.42,3.2,1.74,6.9,2.33,12.8,2.8,17.2,2.28,20.1,1.47,24.6,-.06,29,-1.05,34.1,-1.41,37.8,-1.1,42.2,-.33,45.1,.05,48.8,-.42,53.2,-1.19,56.2,-1.23,59.9,-.69,64.3,.39,68.7,1,73.1,.48,77.5,-.42,84.1,-.6,89.3,-1.19,95.1,-1.86,98.8,-1.68,103.9,-.69,109.8,.7,115.7,1.2,120.1,.75,124.6,.07,127.5,-.08,131.9,.39,139.3,1.29,143.7,.75,148.1,-.29,151.8,-.67,156.2,-.24,162,.57,167.2,.52,171.6,1.2,176.8,1.92,180.5,1.56,184.9,.93,189.3,.34,193,.19,197,.43];
const tickPxD=[128.625,127.75,126.875,126,125.125,124.25,123.375,122.5,121.625,120.75,119.875,119,118.125,117.25,116.375,115.5,114.625,113.75,112.875,112,111.125,110.25,109.375];
const dateIdxD=[13.9,36,57,77,99,122,142,165,187],dateLabD=['24','Feb','Mar','Apr','May','Jun','Jul','Aug','Sep'];
// ---------- Weekly ----------
const barsE=[133.2,133.2,129.1,129.1,129.4,129.6,126.4,127.4,127.5,131.8,127.1,131.6,131.4,133.4,130,132.1,132.1,135,131,132.6,132.6,133.9,131.3,132.1,132.4,134.7,131.8,132.1,132.1,132.2,128.7,128.9,129,130.7,126.5,127.8,127.9,127.9,125.5,125.7,125.75,126.4,123.5,125.8,125.7,130.5,125.3,130.2,130.2,134.3,130,133.4,133,134.6,130.2,133.4,133.4,133.5,130.2,132.1,132.1,135.1,131.1,135,131.8,133.1,130.2,130.8,130.8,133.5,130.6,132.6,132.9,134,130.1,131.9,132.1,133.2,130.6,131.6,131.5,131.6,127.7,128,128,128.8,125.9,126.6,126.8,130,126.3,128.5,128.4,129.1,126.5,128.1,127.9,129.1,126.7,127.95,127.9,129.1,127.4,128.4,128.5,129.2,127,127.4,127.4,128.3,123.8,124.3,124.2,127.7,123.5,127,127,128.4,126.5,127.05,127,127.7,124.7,124.8,124.9,125.4,120.3,122.5,122.6,124.1,121.2,121.3,121.3,121.8,119,119.7,121.2,121.4,117.9,119.6,120.3,122.8,119.6,120.6,120.6,120.6,119.1,119.9,119.7,120.4,118.6,118.9,118.8,118.8,117.2,117.2,117.2,117.3,112.8,114.1,114.1,114.1,109.4,110.8,110.8,114.1,110.3,113.2,113.2,113.2,108,109,108.4,110,107.5,109.9,110.1,114.1,108.9,114.1,114,115.6,113.4,113.5,113.5,116.5,112.7,115.6,115.6,116.8,114.9,115.1,115.2,118.6,114.8,118.5,118.7,120.1,117.5,119.3,119.4,124.5,118.7,124.1,124.1,125,123.3,124.2,124.1,126.2,124.1,125.2,124.8,124.8,121.6,122.3,122.3,123.8,121.6,123.2,123.3,123.3,119.7,120.4,120.6,121.7,119.2,119.7,119.9,125,119.7,122.2,122.2,122.2,119.8,119.9,119.9,119.9,118.2,118.4,118.6,120.1,117.6,119.4,120.5,121.6,119.3,119.4,120.6,122.7,119.6,121.6,121.7,122.3,118.9,118.95,118.9,120.8,118.9,120,120.2,120.9,119.5,120.7,120.7,120.8,117,117.8,117.4,117.6,115.3,116.5,116.4,116.9,113.8,114.9,114.9,115.4,113.1,114.2,114.2,116.9,114,116.2,115.9,117.2,115.5,116.3,116.2,118.95,116,117.6,117.5,117.9,116.8,117.1,117.2,117.8,114.6,116.2,116.4,118.1,116.3,117.7,117.6,120.9,117.5,120.8,120.5,120.6,119.8,120,119.9,120.8,117.6,118.4,119,120.1,116.2,117.5,118.9,120.6,118.9,120.2,119.6,120.6,119.2,119.2,119.5,119.9,118,119.8,119.6,125.7,119.6,125.4,125.4,127.2,121.6,123.1,123.1,125.3,122.8,123.9,123.9,125.7,123.1,124.9,125,125.1,122.7,123.1,122.9,127,122.7,126.2,125.7,127.1,125.1,126.9,126.9,127.7,126.9,127.4];
const upperE=[0,141.95,2.4,140.25,4.8,139.2,7.2,138.8,10.8,138.4,13.5,139.15,17.5,140.2,21.5,140,24.7,138.95,27.9,138.25,31.9,138,35,135.2,38.2,133,42.2,129.9,45.4,128.2,48.6,126.25,51.8,125.9,54.2,125.9,58.2,126.9,62.2,127.15,65.3,127.9,68.9,128.2,72.5,126.25,75.3,125.35,78.9,124.9,81.3,124.7,82.9,124.7,85.3,125.35,88.5,126.8,89.1,126.9];
const lowerE=[0,120.8,2.4,119.5,4.8,118.65,7.2,118.45,10.8,118.85,13.5,120.1,16.3,121.3,19.1,121.45,24.7,121.2,28.7,120.35,31.9,120.1,35,118.85,38.2,117.65,40.2,115.7,43,113.2,45.4,111,48.6,108.7,51,108,53.8,108.6,56.6,108.6,58.9,108.55,60.6,109.1,63.5,111.85,66.5,113,68.5,113,71.7,112.5,75.7,111.55,81.3,111.45,85.3,111.3,86.9,111.5,89.1,112.6];
const shadeTopE=[0,140.1,6.4,137.4,12.7,137.95,17.5,138.25,23.1,137.4,27.1,136.6,31.1,136.35,35,133.8,39,130.6,43.8,127.95,47.8,125.75,51,124.3,55,124.3,59,125.35,63,125.9,67.7,126.7,72.5,125.35,75.3,124.3,81.3,123.5,84.5,123.9,89.1,125.35];
const shadeBotE=[0,123.05,3.2,121.05,6.4,120.45,10.4,120.7,14,122.4,16.3,123.45,22.3,123.2,27.9,122.4,31.9,121.9,35.9,120.1,39,117.4,42.2,114.35,45.4,111.65,48.6,110.7,51,109.85,54.2,110.15,59.8,110.7,63,112.3,65.3,113.9,68.9,114.15,75.7,112.85,81.3,112.75,85.3,112.7,89.1,114];
const midE=[0,131.3,2.4,129.6,4.8,129,8,128.75,11.2,128.75,13.5,129.6,16.3,130.75,21.5,130.6,24.7,129.9,28.7,129.25,31.9,129,35,127.2,39,123.8,43,120.6,46.2,118.85,51,116.9,55.8,117.4,59.8,117.75,63,118.85,65.3,120.35,70.1,120.45,74.9,118.85,79.7,118.1,83.7,118.1,86.9,118.6,89.1,119.75];
const trailE=[0,132.2,'r',1.6,132.05,'y',31.1,132,'r',33.1,131.4,'r',35,129.5,'r',37.4,127.45,'r',39.8,124.85,'r',41.8,122.55,'r',43.8,120.95,'r',46.2,119.75,'r',48.6,119.4,'b',51,120.1,'b',52.6,120.45,'b',54.2,120.45,'y',87.6,120.55,'b',89.1,120.85,'b'];
const histRunsE=[['r',[-3.4,-3.7,-2.24]],['g',[-1.8,-1.08,-.72,-.26,-.4,-.1,-.3,0,1.63,1.63,1.63,.8,.93,.15,.07,-.03,-.22,-.18,-.15,-.5,-.82,-.96,-.77,-.98,-.88,-.15,.2,-.18,-1.5]],['r',[-2.43,-2.6,-2.4,-2.89,-2.2,-2.78,-2.92,-3.35,-3.06,-2.3,-3.42,-3,-2.27,-2.42]],['g',[-2,-1.58,-1.52,-1.53,-.18,.34,.75,.39,.39,-.05,0,.39,.31,.52,1.03,.85,1.44,1.08,.77,.95,.31,.23,-.7,-1.15,-1.86,-1.6,-1.43,-1.08,-1.03,-.41,.1,-.34,-.23,.05,.1,-.18,-.41,1.31,.67,.72,1.73,1.53]],['n',[2.35,2.37]]];
const histLineE=[0,-3.4,1.6,-3.5,2.8,-3.3,4.4,-2.68,6.4,-1.55,8.4,-.77,10,-.21,11.2,.52,13.1,1.29,15.1,1.7,16.7,1.73,18.3,1.55,20.7,.93,23.9,-.21,27.1,-.88,30.3,-1.01,32.7,-1.65,35.9,-2.16,38.2,-2.78,40.2,-3.16,41,-3.16,43,-3.48,44.9,-3.4,46.9,-2.99,48.8,-2.37,50.8,-1.24,52,-.62,54,.15,56.8,.82,59.2,1.13,62,1.55,64.8,1.49,66.9,1.19,69.3,.21,71.3,-.62,74,-1.13,75.3,-1.22,78,-1.16,80,-.88,82,-.67,83.2,-.15,84.8,.41,86.4,1.08,88,1.6,89.1,1.91];
const tickPxE=[141,138,135,132,129,126,123,120,117,115.5,114,112.5,111,109.5,108];
const dateIdxE=[2,15,27,40,53,66,79,92],dateLabE=['23','Apr','Jul','Oct','24','Apr','Jul','Oct'];

const C={bg:'#e6e6fa',shade:'#dddde6',up:'#0a640f',dn:'#b3262c',blue:'#1e90ff',anno:'#b22222',txt:'#666',tick:'#5a5a5a',
 trail:{y:'#ffff00',r:'#dc143c',b:'#4169e1'},hist:{g:'#c4c4c4',r:'#8b0000',n:'#00007f'},teal:'#008b80',red:'#a00f0f',salmon:'#fa8072'};
const svg=d3.select('#c');
const FONT='Roboto,"Open Sans",sans-serif';
svg.append('rect').attr('width',2500).attr('height',1708).attr('fill','#2a2a2c');
let clipN=0;
const chunk=(a,k)=>d3.range(0,a.length,k).map(i=>a.slice(i,i+k));
const fmt32=v=>{const t=Math.floor(v+1e-6),f=Math.round((v-t)*32);return t+"'"+String(f).padStart(2,'0')};
function arrow(g,x1,y1,x2,y2,col,w,h){
  const a=Math.atan2(y2-y1,x2-x1),bx=x2-Math.cos(a)*h,by=y2-Math.sin(a)*h,nx=-Math.sin(a)*h*.55,ny=Math.cos(a)*h*.55;
  g.append('line').attr('x1',x1).attr('y1',y1).attr('x2',bx).attr('y2',by).attr('stroke',col).attr('stroke-width',w);
  g.append('path').attr('d',`M${x2},${y2}L${bx+nx},${by+ny}L${bx-nx},${by-ny}Z`).attr('fill',col);
}
function backArrow(x,y){const g=svg.append('g').attr('fill','none').attr('stroke','#666').attr('stroke-width',3.5);
  g.append('path').attr('d',`M${x+15},${y}H${x-14}M${x-2},${y-11}L${x-14},${y}L${x-2},${y+11}`);}
function label(t,x,y,size,fill,w,weight,parent){const s=(parent||svg).append('text').text(t).attr('x',x).attr('y',y).attr('font-family',FONT).attr('font-size',size).attr('fill',fill);
  if(w)s.attr('textLength',w).attr('lengthAdjust','spacingAndGlyphs');if(weight)s.attr('font-weight',weight);return s;}

function toolbar(o){
  svg.append('rect').attr('x',o.x0).attr('y',o.y0).attr('width',o.x1-o.x0).attr('height',o.y1-o.y0).attr('fill',o.bg);
  svg.append('rect').attr('x',o.x0).attr('y',o.y0).attr('width',o.chart).attr('height',o.y1-o.y0).attr('fill','#dc3d00');
  label('Chart',o.x0+o.chart/2,o.y1-10,24,'#fff').attr('text-anchor','middle');
  o.dd.forEach(([a,b,t])=>{svg.append('rect').attr('x',a).attr('y',o.y0+4).attr('width',b-a).attr('height',o.y1-o.y0-8).attr('fill','#3a3a3e');
    label(t,a+10,o.y1-11,19.5,'#c8c8c8');
    svg.append('path').attr('d',`M${b-24},${(o.y0+o.y1)/2-4}l6,8l6,-8`).attr('fill','none').attr('stroke','#ddd').attr('stroke-width',2.6);});
  (o.icons||[]).forEach(([x,k])=>icon(x,(o.y0+o.y1)/2,k));
  if(o.tri)svg.append('path').attr('d',`M${o.tri-8},${(o.y0+o.y1)/2-5}h16l-8,10z`).attr('fill','#ccc');
  o.btn.forEach((x,i)=>{const y=o.y0+5,h=o.y1-o.y0-10;
    const r=svg.append('rect').attr('x',x).attr('y',y).attr('width',26).attr('height',h);
    if(i==0)r.attr('fill','#b4b4b4');else if(i==1)r.attr('fill','#00e600');
    else if(i==4&&o.redLast)r.attr('fill','#a82020').attr('stroke','#666');
    else{r.attr('fill',o.bg=='#1f1f21'?'#2a2a2a':'none').attr('stroke','#cfcfcf').attr('stroke-width',1.6);
      if(i==2)svg.append('rect').attr('x',x+5).attr('y',y+h-8).attr('width',16).attr('height',3).attr('fill','#ddd');}
  });
}
function icon(x,y,k){const g=svg.append('g').attr('transform',`translate(${x},${y})`).attr('stroke','#ddd').attr('fill','none').attr('stroke-width',1.8);
  if(k=='c'){[[-9,-4,9],[0,-10,15],[9,-6,10]].forEach(([a,b,h])=>{g.append('rect').attr('x',a-3).attr('y',b).attr('width',6).attr('height',h+2).attr('fill','#ddd');g.append('line').attr('x1',a).attr('x2',a).attr('y1',b-3).attr('y2',b+h+6);});}
  if(k=='o'){[[-8,-6,12],[0,-11,18],[8,-8,12]].forEach(([a,b,h])=>{g.append('line').attr('x1',a).attr('x2',a).attr('y1',b).attr('y2',b+h+4);g.append('line').attr('x1',a-3).attr('x2',a).attr('y1',b+4).attr('y2',b+4);g.append('line').attr('x1',a).attr('x2',a+3).attr('y1',b+h-2).attr('y2',b+h-2);});}
  if(k=='p'){g.append('path').attr('d','M-12,-12L-6,-16L12,8L13,15L7,12Z');g.append('line').attr('x1',-8).attr('y1',-9).attr('x2',8).attr('y2',12);}
  if(k=='z'||k=='zd'){if(k=='zd')g.attr('stroke','#777');g.append('circle').attr('cx',-4).attr('cy',-5).attr('r',9);g.append('path').attr('d','M-8,-5H0'+(k=='z'?'M-4,-9V-1':''));g.append('line').attr('x1',3).attr('y1',2).attr('x2',13).attr('y2',14).attr('stroke-width',4);}
  if(k=='a')g.append('path').attr('d','M-8,-14L-8,8L-2,3L3,14L7,12L2,1L9,1Z');
  if(k=='d'){g.append('path').attr('d','M-10,-14H5L11,-8V14H-10Z');g.append('path').attr('d','M-5,-4H1M-5,1H1M-5,6H1');g.append('circle').attr('cx',6).attr('cy',6).attr('r',4);}
  if(k=='b'){g.append('path').attr('d','M-12,-14H12V-5H4V14H-12');g.append('path').attr('d','M4,-5V14H12V-5');g.append('path').attr('d','M-12,-8H-4');}
  if(k=='h'){g.append('path').attr('d','M-12,-8V-14H-6M12,-8V-14H6M-12,8V14H-6M12,8V14H6');[[-6,3],[-2,-5],[2,-8],[6,-2]].forEach(([a,b])=>g.append('rect').attr('x',a-1).attr('y',b).attr('width',2.5).attr('height',11-b).attr('fill','#ddd'));}
  if(k=='n'){g.append('path').attr('d','M-9,11L-4,-3L2,5L8,-10');[[-9,11],[-4,-3],[2,5],[8,-10]].forEach(([a,b])=>g.append('circle').attr('cx',a).attr('cy',b).attr('r',3));}
  if(k=='l'){[-10,0,10].forEach(b=>{g.append('rect').attr('x',-12).attr('y',b-3).attr('width',6).attr('height',6);g.append('line').attr('x1',-2).attr('x2',13).attr('y1',b).attr('y2',b);});}
}

function panel(p){
  svg.append('rect').attr('x',p.x0).attr('y',p.y0).attr('width',p.x1-p.x0).attr('height',p.y1-p.y0).attr('fill',C.bg);
  const xl=d3.scaleLinear().domain([0,p.lastIdx]).range([p.first,p.last]);
  const bars=chunk(p.bars,p.ohlc?3:4);
  const xb=d3.scaleLinear().domain([0,bars.length-1]).range([p.first,p.last]);
  const y=(p.log?d3.scaleLog():d3.scaleLinear()).domain(p.yd).range(p.yr);
  const id='cl'+(clipN++);
  svg.append('clipPath').attr('id',id).append('rect').attr('x',p.x0).attr('y',p.y0).attr('width',p.axisX-p.x0).attr('height',p.paneBottom-p.y0);
  const g=svg.append('g').attr('clip-path',`url(#${id})`);
  (p.grid||[]).forEach(i=>{svg.append('line').attr('x1',xl(i)).attr('x2',xl(i)).attr('y1',p.y0).attr('y2',p.axisY).attr('stroke','#d6d6e4').attr('stroke-width',1);});
  const pairs=a=>chunk(a,2);
  const line=d3.line().x(d=>xl(d[0])).y(d=>y(d[1])).curve(d3.curveMonotoneX);
  const st=pairs(p.shadeTop),sb=pairs(p.shadeBot).reverse();
  const sArea=line(st)+'L'+line(sb).slice(1)+'Z';
  g.append('path').attr('d',sArea).attr('fill',C.shade);
  label(p.title,p.tx,p.ty,p.tsize,p.tcol||C.txt,p.tw,null,g);
  label(p.sub,p.sx,p.sy,p.ssize,C.txt,p.sw,null,g);
  if(p.setup){const s=p.setup;g.append('rect').attr('x',s.x).attr('y',s.y).attr('width',s.w).attr('height',s.h).attr('fill',s.fill).attr('stroke',s.stroke).attr('stroke-width',2.5);
    label(s.t,s.x+10,s.y+20,18,s.col,null,null,g);}
  if(p.sep)p.sep.forEach(i=>g.append('line').attr('x1',xl(i)).attr('x2',xl(i)).attr('y1',p.y0).attr('y2',p.axisY).attr('stroke','#555').attr('stroke-width',1).attr('stroke-dasharray','5,3'));
  if(p.levelSpan)p.levelSpan.forEach((s,i)=>{[[p.levelTeal,C.teal],[p.levelRed,C.red],[p.levelSalmon,C.salmon]].forEach(([a,c])=>{
    if(a[i]==null)return;g.append('line').attr('x1',xl(s[0])).attr('x2',xl(s[1])).attr('y1',y(a[i])).attr('y2',y(a[i])).attr('stroke',c).attr('stroke-width',2.4).attr('stroke-dasharray','2,2');});});
  g.append('path').attr('d',line(pairs(p.mid))).attr('fill','none').attr('stroke','#b0b0b0').attr('stroke-width',1);
  [p.upper,p.lower].forEach(a=>g.append('path').attr('d',line(pairs(a))).attr('fill','none').attr('stroke',C.blue).attr('stroke-width',p.blueW||1.7));
  const tr=chunk(p.trail,3);let run=[tr[0]];
  const flush=(col,pts)=>{if(pts.length>1)g.append('path').attr('d',line(pts)).attr('fill','none').attr('stroke',C.trail[col]).attr('stroke-width',p.trailW||3.4).attr('stroke-dasharray','9,5');};
  for(let i=1;i<tr.length;i++){run.push(tr[i]);if(tr[i][2]!=run[0][2]){flush(run[0][2],run);run=[tr[i]];}}
  flush(run[0][2],run);
  if(p.ohlc){const tw=p.tickW||1.2;bars.forEach((b,i)=>{const x=xb(i);
    g.append('line').attr('x1',x).attr('x2',x).attr('y1',y(b[0])).attr('y2',y(b[1])).attr('stroke',p.barCol||'#000').attr('stroke-width',p.barW||1.6);
    g.append('line').attr('x1',x).attr('x2',x+2).attr('y1',y(b[2])).attr('y2',y(b[2])).attr('stroke',p.barCol||'#000').attr('stroke-width',tw);
    if(i>0)g.append('line').attr('x1',x-2).attr('x2',x).attr('y1',y(bars[i-1][2])).attr('y2',y(bars[i-1][2])).attr('stroke',p.barCol||'#000').attr('stroke-width',tw);
  });}else{const blk=new Set(p.black||[]);bars.forEach((b,i)=>{const x=xb(i),[o,h,l,c]=b;
    g.append('line').attr('x1',x).attr('x2',x).attr('y1',y(h)).attr('y2',y(l)).attr('stroke','#000').attr('stroke-width',1.4);
    const t=y(Math.max(o,c)),bt=y(Math.min(o,c));
    g.append('rect').attr('x',x-p.cw/2).attr('y',t).attr('width',p.cw).attr('height',Math.max(1,bt-t)).attr('fill',blk.has(i)?'#000':c>=o?C.up:C.dn).attr('stroke','#000').attr('stroke-width',1);
  });}
  (p.arrows||[]).forEach(([i,a,b,col])=>arrow(g,xl(i),y(a),xl(i),y(b),col,p.arrowW||3.4,9));
  if(p.poly)p.poly.forEach(q=>g.append('path').attr('d',d3.line().x(d=>xl(d[0])).y(d=>y(d[1]))(q)+'Z').attr('fill','#f4f49a').attr('fill-opacity',.5));
  if(p.ellipse){const e=p.ellipse;g.append('ellipse').attr('cx',xl(e[0])).attr('cy',y(e[1])).attr('rx',e[2]).attr('ry',e[3]).attr('fill',e[4]?'none':'#f4f49a').attr('fill-opacity',.6).attr('stroke',C.anno).attr('stroke-width',2.5);}
  (p.segs||[]).forEach(s=>g.append('line').attr('x1',xl(s[0])).attr('y1',y(s[1])).attr('x2',xl(s[2])).attr('y2',y(s[3])).attr('stroke',C.anno).attr('stroke-width',2.8));
  (p.annoArrows||[]).forEach(s=>arrow(g,xl(s[0]),y(s[1]),xl(s[2]),y(s[3]),C.anno,s[4]||2.8,16));
  if(p.target){const t=p.target,x=xl(t.i);
    g.append('line').attr('x1',x).attr('x2',x).attr('y1',y(t.hi)).attr('y2',y(t.lo)).attr('stroke','#b0b0b8').attr('stroke-width',1);
    [[t.hi,'#3c9a6a'],[t.mid,'#8a8a94'],[t.lo,'#b22222']].forEach(([v,c])=>g.append('line').attr('x1',x).attr('x2',p.axisX).attr('y1',y(v)).attr('y2',y(v)).attr('stroke',c).attr('stroke-width',1.3));
    t.labels.forEach(([txt,v,dy,c])=>label(txt,x+2,y(v)+dy,p.tgSize||19,c,null,null,g));}
  const ax=svg.append('g').attr('transform',`translate(${p.axisX},0)`);
  ax.append('line').attr('y1',p.y0).attr('y2',p.axisY).attr('stroke','#8c8c94').attr('stroke-width',1.4);
  const yAxis=d3.axisRight(y).tickValues(p.ticks).tickSize(6).tickPadding(3).tickFormat((d,i)=>p.tickLab?p.tickLab[i]:fmt32(d));
  const ya=ax.append('g').call(yAxis);styleAxis(ya);
  if(p.minor){const m=d3.pairs(p.ticks).map(([a,b])=>(a+b)/2);
    const ma=ax.append('g').call(d3.axisRight(y).tickValues(m).tickSize(5).tickFormat(''));styleAxis(ma);}
  svg.append('line').attr('x1',p.x0).attr('x2',p.axisX).attr('y1',p.paneBottom).attr('y2',p.paneBottom).attr('stroke','#c2c2ca').attr('stroke-width',1.6);
  svg.append('line').attr('x1',p.x0).attr('x2',p.axisX).attr('y1',p.axisY).attr('y2',p.axisY).attr('stroke','#9c9ca4').attr('stroke-width',1.6);
  const xa=svg.append('g').attr('transform',`translate(0,${p.axisY})`).call(d3.axisBottom(xl).tickValues(p.dateIdx).tickSize(7).tickPadding(9).tickFormat((d,i)=>p.dateLab[i]));
  styleAxis(xa);
  const mx=p.axisX-5,my=y(127.25),mr=p.markR;
  svg.append('path').attr('d',`M${mx},${my}L${mx+8},${my-11}H${mr}V${my+11}H${mx+8}Z`).attr('fill','#ffff00').attr('stroke','#b9b900');
  label("127'08",(mx+8+mr)/2+1,my+7,18.5,'#000').attr('text-anchor','middle');
  if(p.cx!=null)label('© 2024 NinjaTrader, LLC',p.cx,p.cy,17.5,'#6a6a6a',190);
  return {xl,y};
}
function styleAxis(s){s.select('.domain').remove();s.selectAll('line').attr('stroke','#8c8c94');
  s.selectAll('text').attr('font-family',FONT).attr('font-size',17.5).attr('fill',C.tick);}
function subPane(p){
  const xs=d3.scaleLinear().domain(p.xd).range(p.xr);
  const y=d3.scaleLinear().domain(p.yd).range(p.yr);
  const id='cl'+(clipN++);
  svg.append('clipPath').attr('id',id).append('rect').attr('x',p.x0).attr('y',p.top).attr('width',p.axisX-p.x0).attr('height',p.bottom-p.top);
  const g=svg.append('g').attr('clip-path',`url(#${id})`);
  (p.grids||[]).forEach(v=>g.append('line').attr('x1',p.x0).attr('x2',p.axisX).attr('y1',y(v)).attr('y2',y(v)).attr('stroke','#d2d2da').attr('stroke-width',1.6));
  g.append('line').attr('x1',p.x0).attr('x2',p.axisX).attr('y1',y(0)).attr('y2',y(0)).attr('stroke','#c2c2ca').attr('stroke-width',1.6);
  let k=0;(p.runs||[]).forEach(([c,vals])=>vals.forEach(v=>{const x=xs(k++);
    if(v!==0)g.append('line').attr('x1',x).attr('x2',x).attr('y1',y(0)).attr('y2',y(v)).attr('stroke',C.hist[c]).attr('stroke-width',c=='g'?3.4:3.6);}));
  const line=d3.line().x(d=>xs(d[0])).y(d=>y(d[1])).curve(d3.curveMonotoneX);
  p.lines.forEach(([a,c,w])=>g.append('path').attr('d',line(chunk(a,2))).attr('fill','none').attr('stroke',c).attr('stroke-width',w||1.8));
  const ax=svg.append('g').attr('transform',`translate(${p.axisX},0)`);
  ax.append('line').attr('y1',p.top).attr('y2',p.bottom).attr('stroke','#8c8c94').attr('stroke-width',1.4);
  const a=ax.append('g').call(d3.axisRight(y).tickValues(p.ticks).tickSize(6).tickPadding(3).tickFormat(p.fmt||(d=>String(d))));styleAxis(a);
  if(p.minor){const ma=ax.append('g').call(d3.axisRight(y).tickValues(d3.pairs(p.ticks).map(([u,v])=>(u+v)/2)).tickSize(5).tickFormat(''));styleAxis(ma);}
}

toolbar({x0:0,x1:812,y0:2,y1:38,bg:'#1f1f21',chart:78,dd:[[108,312,'ZB DEC24'],[322,527,'240 Minute']],icons:[[560,'c'],[605,'p']],tri:642,btn:[660,691,723,753,785],redLast:true});
toolbar({x0:820,x1:1612,y0:2,y1:37,bg:'#47474a',chart:75,dd:[[924,1128,'ZB 12-24'],[1138,1342,'60 Minute']],icons:[[1375,'o']],tri:1438,btn:[1457,1487,1518,1550,1581]});
toolbar({x0:1613,x1:2500,y0:2,y1:37,bg:'#47474a',chart:78,dd:[[1721,1925,'ZB 12-24'],[1935,2139,'15 Minute']],icons:[[2171,'o'],[2218,'p'],[2263,'z']],tri:2336,btn:[2355,2386,2416,2448,2480]});
toolbar({x0:0,x1:812,y0:847,y1:882,bg:'#47474a',chart:78,dd:[[108,312,'ZB 12-24'],[322,527,'Weekly']],icons:[[560,'c']],tri:640,btn:[658,689,721,752,783]});
toolbar({x0:820,x1:2500,y0:530,y1:565,bg:'#47474a',chart:73,dd:[[923,1126,'ZB 12-24'],[1137,1341,'Daily']],icons:[[1374,'c'],[1419,'p'],[1465,'z'],[1511,'zd'],[1555,'a'],[1601,'d'],[1649,'b'],[1693,'h'],[1739,'n'],[1785,'d'],[1832,'l']],btn:[2351,2382,2413,2445,2476]});

panel({x0:11,x1:804,y0:51,y1:833,axisX:737,paneBottom:586,axisY:800,first:25.4,last:615,lastIdx:84.4,bars:barsA,cw:4.6,log:true,yd:[127.5,122.5],yr:[104,559.5],
 shadeTop:knotsA.flatMap((k,i)=>[k,shadeTopA[i]]),shadeBot:knotsA.flatMap((k,i)=>[k,shadeBotA[i]]),upper:knotsA.flatMap((k,i)=>[k,upperA[i]]),lower:knotsA.flatMap((k,i)=>[k,lowerA[i]]),mid:knotsA.flatMap((k,i)=>[k,midA[i]]),trail:trailA,trailW:3.6,
 title:'Remek!  Premium  ZB DEC24  240 Minute  2024-09-16 11:32 PM',tx:26,ty:113,tsize:20,tw:554,sub:'2.5 ATR = 1062 USD',sx:25,sy:138,ssize:20,sw:167,
 ticks:tickPxA,minor:true,dateIdx:dateIdxA,dateLab:dateLabA,grid:gridIdxA,markR:803,
 arrows:[[71.6,125.68,125.85,'#0000ff'],[78.6,125.87,126.06,'#0000ff'],[51.7,124.57,124.76,'#0000ff']],
 ellipse:[86.1,127.22,27.5,32],segs:[[61.7,127.45,85.4,127.5],[72.5,125.9,84.4,126.57]],annoArrows:[[86.5,127.24,92,127.8]]});
backArrow(701,84);
subPane({x0:11,axisX:737,top:586,bottom:800,xd:[0,84.3],xr:[24.6,609],yd:[0,3],yr:[695.7,621.7],runs:histRunsA,lines:[[histLineA,'#00007f',1.8]],ticks:[3,2,1,0,-1,-2,-3,-4],grids:[2,-2]});

panel({x0:826,x1:1600,y0:51,y1:521,axisX:1533,paneBottom:488,axisY:488,first:837.9,last:1490,lastIdx:105,bars:barsB,ohlc:true,barW:1.5,yd:[127.75,125],yr:[75,486],
 shadeTop:shadeTopB,shadeBot:shadeBotB,upper:upperB,lower:lowerB,mid:midB,trail:trailB,trailW:3.6,
 title:'Remek!  ZB DEC24  60 Minute  2024-09-16 11:32 PM',tx:840,ty:113,tsize:20,tw:454,sub:'2.5 ATR = 469 USD',sx:840,sy:137,ssize:20,sw:157,
 setup:{x:830,y:146,w:110,h:26,fill:'#a6d8c8',stroke:'#3cb371',t:'Long Setup',col:'#666'},
 sep:sepB,levelSpan:levelSpanB,levelTeal:levelTealB,levelRed:levelRedB,levelSalmon:levelSalmonB,
 ticks:tickPxB,tickLab:tickLabB,minor:true,dateIdx:dateIdxB,dateLab:dateLabB,markR:1600,cx:831,cy:479,
 arrows:[[22,126.39,126.51,'#0000ff'],[39.8,127.27,127.14,'#b22222']]});

panel({x0:1622,x1:2500,y0:51,y1:521,axisX:2431,paneBottom:488,axisY:488,first:1632.7,last:2388.6,lastIdx:182,bars:barsC,ohlc:true,barW:1.1,tickW:.9,barCol:'#222',yd:[127.375,126.125],yr:[92,469],
 shadeTop:shadeTopC,shadeBot:shadeBotC,upper:upperC,lower:lowerC,mid:midC,trail:trailC,trailW:3.2,
 title:'Remek!  ZB DEC24  15 Minute  2024-09-16 11:32 PM',tcol:'#111',tx:1637,ty:113,tsize:20,tw:454,sub:'2.5 ATR = 188 USD',sx:1637,sy:137,ssize:20,sw:157,
 setup:{x:1626,y:146,w:113,h:26,fill:'#ecbcc4',stroke:'#fa8080',t:'Short Setup',col:'#222'},
 sep:sepC,levelSpan:levelSpanC,levelTeal:levelTealC,levelRed:levelRedC,levelSalmon:levelSalmonC,
 ticks:tickPxC,tickLab:tickLabC,minor:true,dateIdx:dateIdxC,dateLab:dateLabC,markR:2499,cx:1627,cy:479,
 arrows:[[6,126.46,126.53,'#0000ff'],[67,126.33,126.41,'#0000ff'],[144.8,126.86,126.92,'#0000ff'],[155,126.92,126.98,'#0000ff']]});

panel({x0:825,x1:2495,y0:578,y1:1704,axisX:2428,paneBottom:1246,axisY:1673,first:834.6,last:2277,lastIdx:198.3,bars:barsD,black:blackBarsD,cw:5,log:true,yd:[128.625,109.375],yr:[640.7,1223],
 shadeTop:shadeTopD,shadeBot:shadeBotD,upper:upperD,lower:lowerD,mid:midD,trail:trailD,trailW:3.2,blueW:1.6,arrowW:3.4,
 title:'Remek!  ZB DEC24  Daily  2024-09-16 11:32 PM',tx:841,ty:647,tsize:26,tw:545,sub:'2.5 ATR = 3000 USD',sx:841,sy:684,ssize:22,sw:196,
 ticks:tickPxD,dateIdx:dateIdxD,dateLab:dateLabD,markR:2494,
 arrows:[[22,120.15,120.75,'#0000ff'],[72,117,117.6,'#0000ff'],[176.3,121.05,121.65,'#0000ff'],[95,117.4,116.8,'#b22222'],[156.2,122.7,122.1,'#b22222']],
 poly:[[[149.3,119.4],[155.2,120.97],[164.1,119.37],[158.3,118.05]],[[167.2,126.7],[191,124.6],[188.2,121.35],[164.2,123.4]]],
 ellipse:[192.7,124.6,33.6,31,true],
 segs:[[133,120.93,169.1,120.6],[149.3,119.4,158.3,118.05],[155.2,120.97,164.1,119.37],[143.2,116,165.1,118.25],[164.2,123.4,188.2,121.35],[167.2,126.7,191,124.6]],
 annoArrows:[[165.1,119.5,172.8,121.8],[194.3,125.3,195.6,126.85,4]],
 target:{i:189.2,hi:129,mid:125.47,lo:121.94,labels:[["129'00",129,18,'#2e8b57'],["125'15",125.47,17,'#7f8a9a'],["121'30",121.94,17,'#b22222']]}});
backArrow(2391,610);
svg.append('rect').attr('x',2465).attr('y',580).attr('width',27).attr('height',33).attr('fill','#1a1a1a');
label('F',2478.5,604,23,'#fff').attr('text-anchor','middle');
subPane({x0:825,axisX:2428,top:1246,bottom:1449,xd:[0,197],xr:[834,2270],yd:[0,8],yr:[1376,1274.3],runs:histRunsD,lines:[[histLineD,'#00007f',1.8]],ticks:[8,6,4,2,0,-2,-4],grids:[2,-2]});
svg.append('line').attr('x1',825).attr('x2',2428).attr('y1',1449).attr('y2',1449).attr('stroke','#c2c2ca').attr('stroke-width',1.6);
subPane({x0:825,axisX:2428,top:1449,bottom:1673,xd:[0,197],xr:[834,2270],yd:[0,3],yr:[1577.7,1466.7],lines:[[oscFastD,'#00007f',1.6],[oscSlowD,'#8b4513',1.6]],ticks:[3,2,1,0,-1,-2],minor:true});
label('© 2024 NinjaTrader, LLC',829,1662,17.5,'#6a6a6a',190);

panel({x0:11,x1:802,y0:895,y1:1703,axisX:735,paneBottom:1448,axisY:1671,first:20.9,last:612,lastIdx:90,bars:barsE,cw:4.8,log:true,yd:[141,108],yr:[921.5,1422],
 shadeTop:shadeTopE,shadeBot:shadeBotE,upper:upperE,lower:lowerE,mid:midE,trail:trailE,trailW:3.4,blueW:1.6,
 title:'Remek!  Premium  ZB DEC24  Weekly  2024-09-16 11:32 PM',tx:26,ty:957,tsize:20,tw:516,sub:'2.5 ATR = 7562 USD',sx:25,sy:981.6,ssize:20,sw:167,
 ticks:tickPxE,minor:true,dateIdx:dateIdxE,dateLab:dateLabE,markR:802,
 arrows:[[3,138.55,137.5,'#b22222'],[19,138.5,137.4,'#b22222']],
 poly:[[[82.9,127.4],[91.1,123.8],[89.1,120.7],[81,124.2]]],
 segs:[[54,126.05,86.1,119.85],[44,107.65,85,116.2],[82.9,127.4,91.1,123.8],[81,124.2,89.1,120.7]],
 annoArrows:[[93.1,125.15,97.6,128.85],[87.3,119.4,91.6,122.55]],
 target:{i:90,hi:133.5,mid:126.7,lo:120,labels:[["133'16",133.5,17,'#2e8b57'],["126'22",126.7,18,'#7f8a9a'],["119'28",120,19,'#b22222']]}});
backArrow(699,928);
subPane({x0:11,axisX:735,top:1448,bottom:1671,xd:[0,89.1],xr:[21,605.6],yd:[0,1.5],yr:[1536.7,1488.5],runs:histRunsE,lines:[[histLineE,'#00007f',1.8]],ticks:[1.5,.5,-.5,-1.5,-2.5,-3.5],minor:true,grids:[2,-2]});
label('© 2024 NinjaTrader, LLC',15,1660,17.5,'#6a6a6a',190);
label('© 2024 NinjaTrader, LLC',15,790,17.5,'#6a6a6a',190);
</script></body></html>
